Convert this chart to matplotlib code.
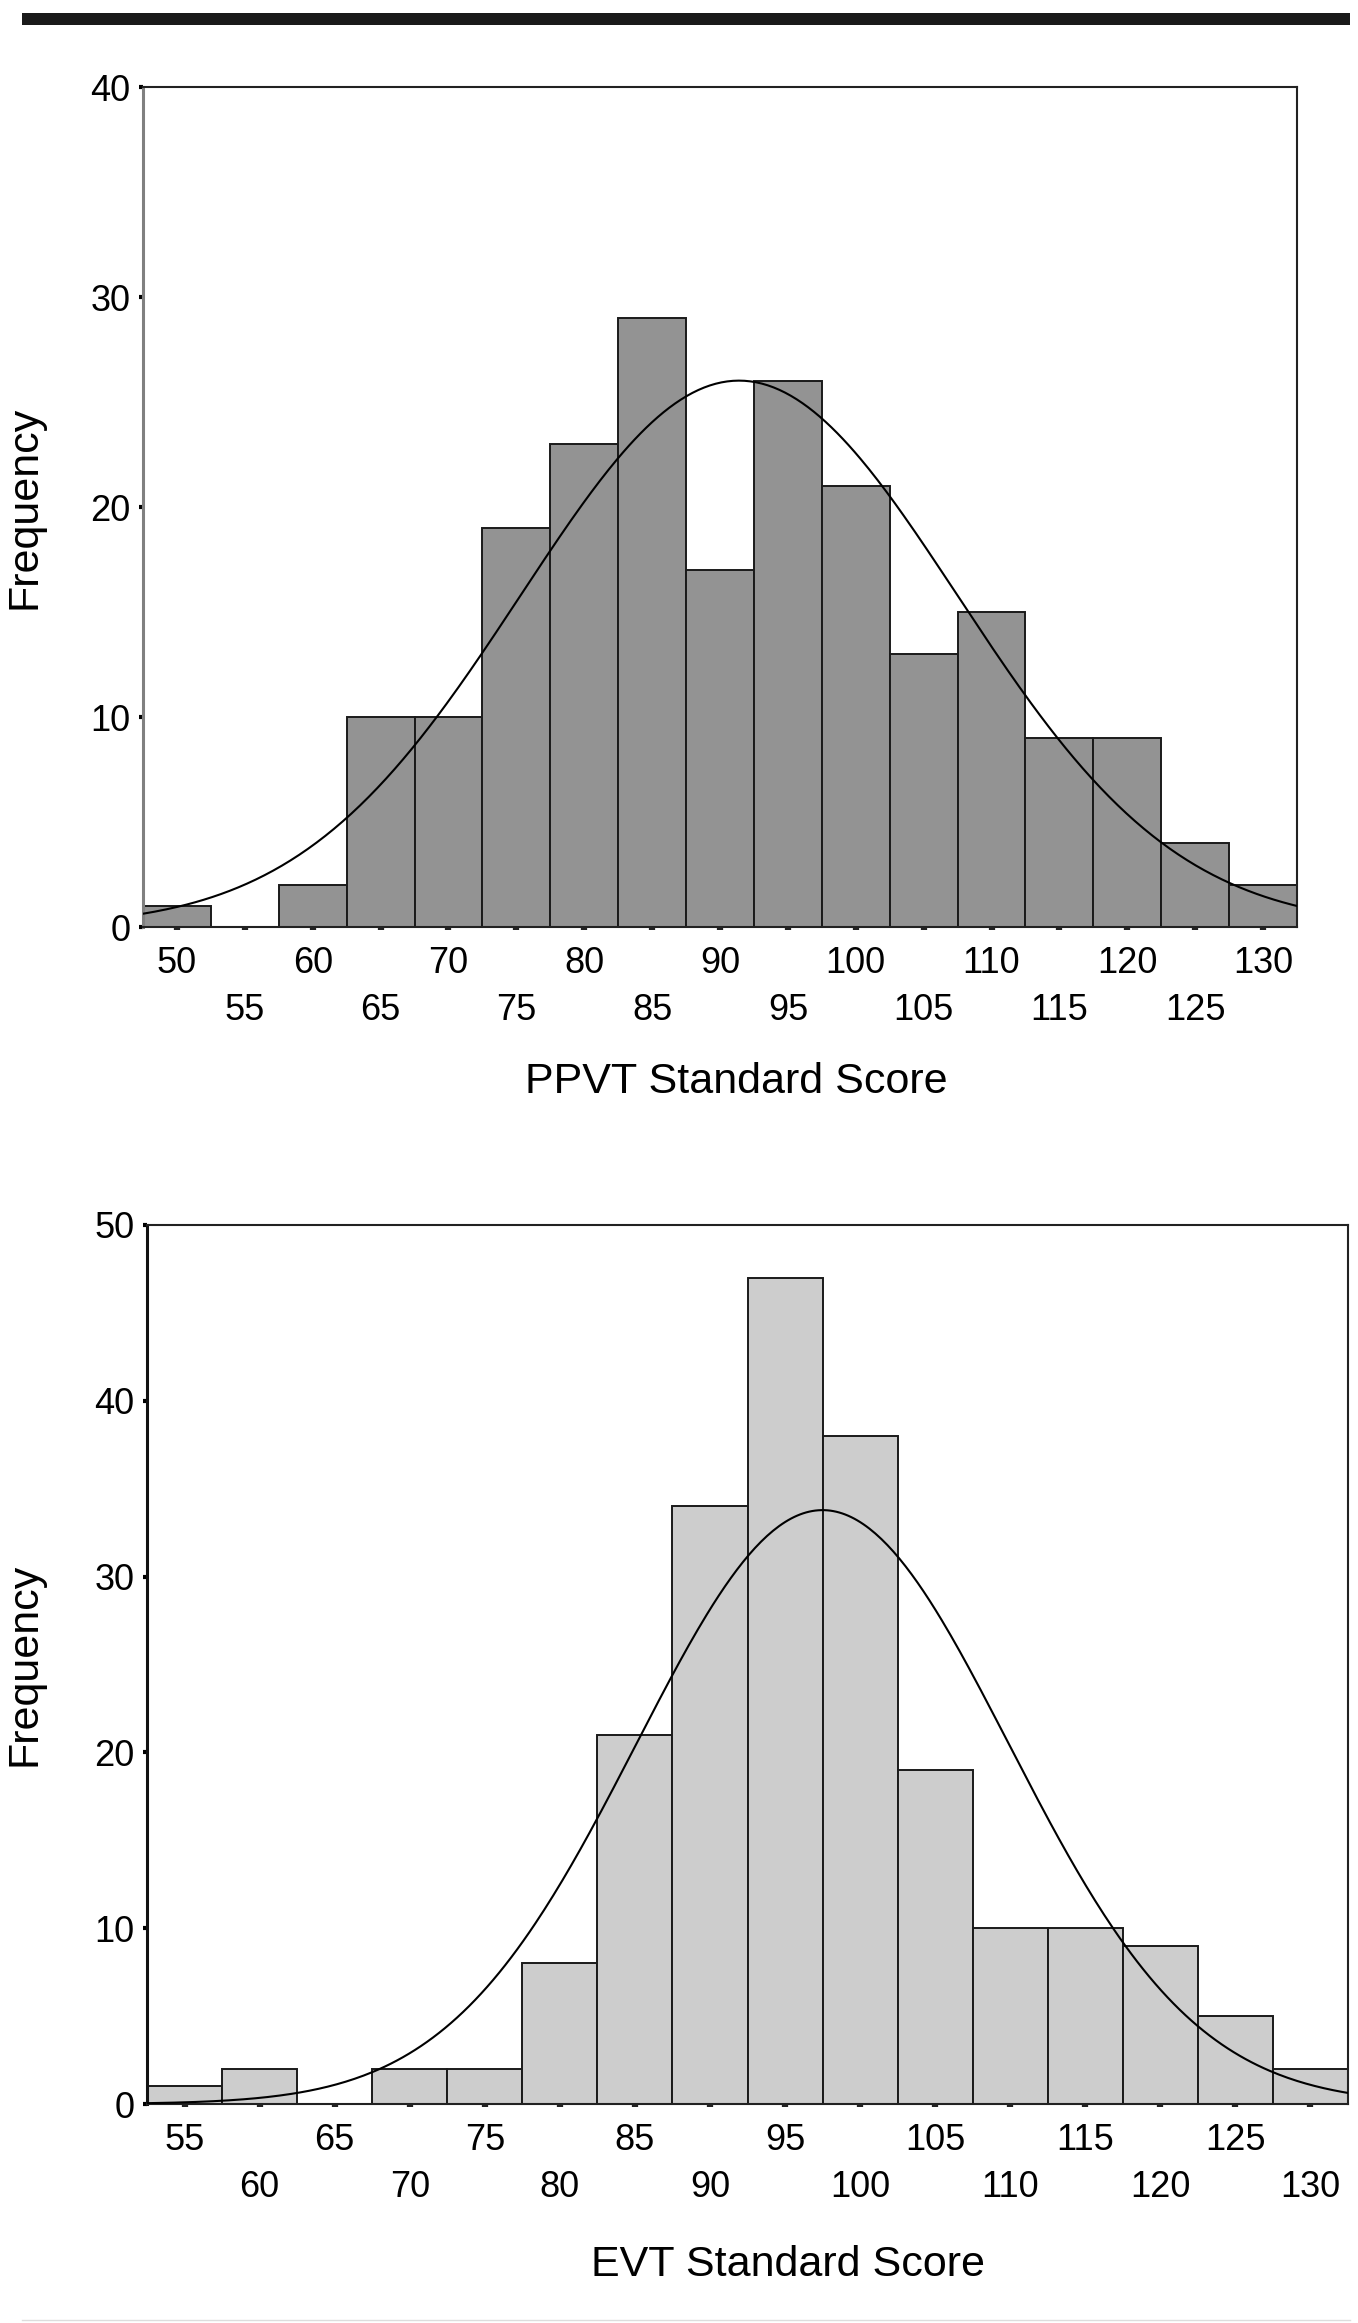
import numpy as np
import matplotlib
matplotlib.use("Agg")
import matplotlib.pyplot as plt
from matplotlib.patches import Rectangle
from matplotlib.lines import Line2D

plt.rcParams['font.family'] = ['Liberation Sans', 'DejaVu Sans']

# -----------------------------
# PPVT histogram (bin centres, counts) and fitted normal
ppvt_bins = [50, 55, 60, 65, 70, 75, 80, 85, 90, 95, 100, 105, 110, 115, 120, 125, 130]
ppvt_counts = [1, 0, 2, 10, 10, 19, 23, 29, 17, 26, 21, 13, 15, 9, 9, 4, 2]
ppvt_mean, ppvt_sd = 91.4, 16.1

# EVT histogram (bin centres, counts) and fitted normal
evt_bins = [55, 60, 65, 70, 75, 80, 85, 90, 95, 100, 105, 110, 115, 120, 125, 130]
evt_counts = [1, 2, 0, 2, 2, 8, 21, 34, 47, 38, 19, 10, 10, 9, 5, 2]
evt_mean, evt_sd = 97.5, 12.4

bin_width = 5

fig = plt.figure(figsize=(13.58, 23.23), dpi=100)

# black rule at the top, faint line at the bottom
fig.add_artist(Rectangle((22 / 1358, 1 - 25 / 2323), 1328 / 1358, 12 / 2323,
                         transform=fig.transFigure, color='#1a1a1a', lw=0))
fig.add_artist(Line2D([22 / 1358, 1350 / 1358], [1 - 2320 / 2323] * 2,
                      transform=fig.transFigure, color='#dddddd', lw=1))


def draw_hist(ax, bins, counts, mean, sd, color, xlim, ylim, yticks,
              row1, row2, xlabel, xlabel_pos, left_spine_color):
    ax.bar(bins, counts, width=bin_width, color=color, edgecolor='#1a1a1a',
           linewidth=1.4, zorder=2)
    n = sum(counts)
    xs = np.linspace(xlim[0], xlim[1], 400)
    ys = n * bin_width / (sd * np.sqrt(2 * np.pi)) * np.exp(-0.5 * ((xs - mean) / sd) ** 2)
    ax.plot(xs, ys, color='black', lw=1.5, zorder=3)

    ax.set_xlim(*xlim)
    ax.set_ylim(*ylim)
    ax.set_yticks(yticks)
    ax.set_xticks(row1)
    ax.set_xticks(row2, minor=True)
    ax.set_xticklabels([str(v) for v in row1])
    ax.set_xticklabels([str(v) for v in row2], minor=True)
    ax.tick_params(axis='x', which='both', direction='out', length=2.5, width=4.5,
                   color='#222222', labelsize=26)
    ax.tick_params(axis='x', which='major', pad=11)
    ax.tick_params(axis='x', which='minor', pad=45)
    ax.tick_params(axis='y', direction='out', length=3, width=3, color='black',
                   labelsize=26, pad=6)
    for s in ax.spines.values():
        s.set_linewidth(1.5)
        s.set_color('#222222')
    ax.spines['left'].set_color(left_spine_color)
    ax.spines['left'].set_linewidth(2.2)
    ax.text(xlabel_pos[0], xlabel_pos[1], xlabel, transform=ax.transAxes,
            ha='center', va='center', fontsize=31)
    ax.set_ylabel('Frequency', fontsize=31)
    ax.yaxis.set_label_coords(-0.085, 0.5)


ax1 = fig.add_axes([143 / 1358, 1 - 927 / 2323, 1154 / 1358, 840 / 2323])
draw_hist(ax1, ppvt_bins, ppvt_counts, ppvt_mean, ppvt_sd, '#939393',
          (47.5, 132.5), (0, 40), [0, 10, 20, 30, 40],
          ppvt_bins[0::2], ppvt_bins[1::2], 'PPVT Standard Score',
          (0.514, -0.185), '#808080')

ax2 = fig.add_axes([147 / 1358, 1 - 2104 / 2323, 1201 / 1358, 879 / 2323])
draw_hist(ax2, evt_bins, evt_counts, evt_mean, evt_sd, '#cdcdcd',
          (52.5, 132.5), (0, 50), [0, 10, 20, 30, 40, 50],
          evt_bins[0::2], evt_bins[1::2], 'EVT Standard Score',
          (0.534, -0.183), '#111111')

fig.savefig('out.png', dpi=100)
